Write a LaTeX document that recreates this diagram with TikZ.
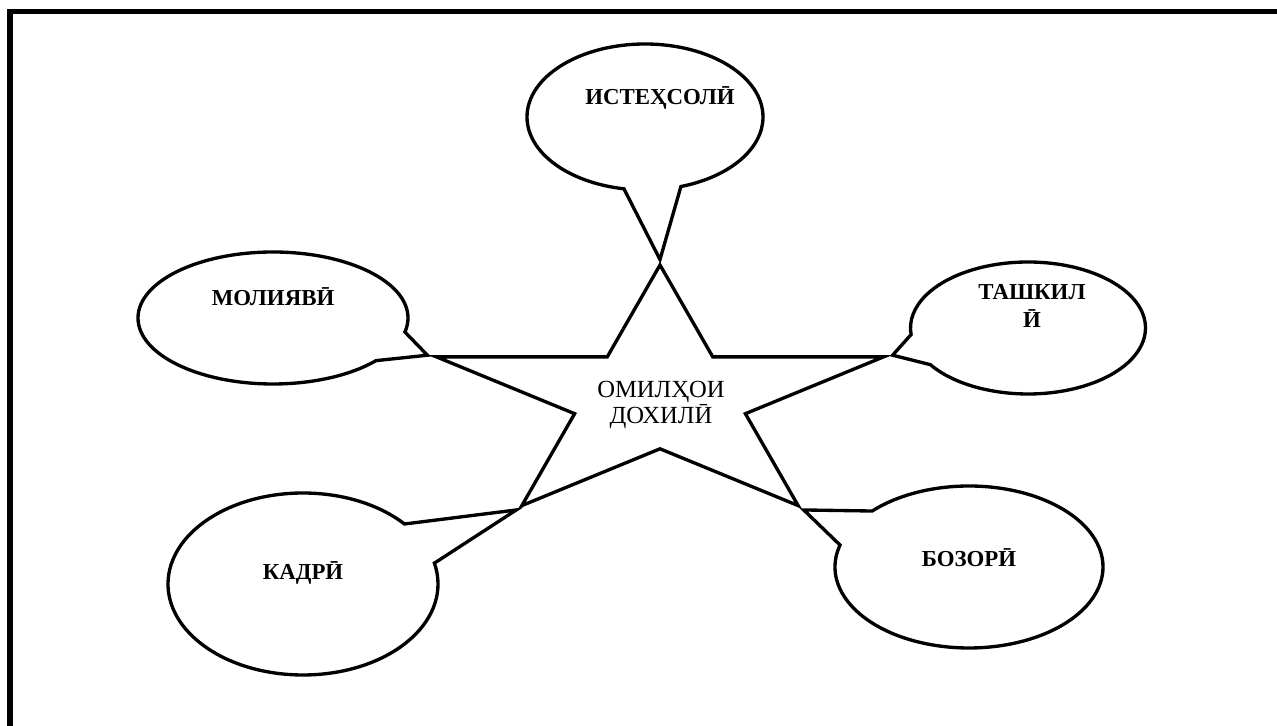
\documentclass[tikz,border=0pt]{standalone}
\usepackage{fontspec}
\setmainfont{Liberation Serif}
\usepackage{tikz}
\usetikzlibrary{shapes,shapes.geometric,shapes.callouts}
\usetikzlibrary{positioning}
\tikzstyle{bubble}=[ellipse callout, draw, line width=1.9pt, inner sep=0pt, callout pointer arc=28, font=\fontsize{13}{16}\selectfont\bfseries, align=center]

\begin{document}
\begin{tikzpicture}

        \useasboundingbox (0,0) rectangle (25.54,14.52);

        \draw [line width=3pt] (0.2,0) |- (25.54,14.29);

        \begin{scope}[shift={(13.2,6.56)}, xscale=1.767]
        \node [star, star points=5, star point ratio=2.618, minimum size=5.32cm, inner sep=0pt, draw, line width=1.9pt, transform shape] (core) at (0,0) {};
        \end{scope}

        \node [align=center, font=\fontsize{14}{13.7}\selectfont] (coretext) at (13.22,6.42) {ОМИЛҲОИ\\ДОХИЛӢ};


        \node [bubble, minimum width=4.72cm, minimum height=2.92cm, callout absolute pointer={(core.outer point 1)}, label={[xshift=0.3cm,yshift=0.38cm,font=\fontsize{13}{16}\selectfont\bfseries]center:ИСТЕҲСОЛӢ}] (prod) at (12.9,12.18) {};

        \node [bubble, minimum width=5.4cm, minimum height=2.64cm, callout absolute pointer={(core.outer point 2)}, label={[yshift=0.42cm,font=\fontsize{13}{16}\selectfont\bfseries]center:МОЛИЯВӢ}] (fin) at (5.46,8.16) {};

        \node [bubble, minimum width=4.7cm, minimum height=2.64cm, callout absolute pointer={(core.outer point 5)}, label={[xshift=0.08cm,yshift=0.44cm,align=center,font=\fontsize{13}{16}\selectfont\bfseries]center:ТАШКИЛ\\Ӣ}] (org) at (20.56,7.96) {};

        \node [bubble, minimum width=5.4cm, minimum height=3.64cm, callout absolute pointer={(core.outer point 3)}, label={[yshift=0.22cm,font=\fontsize{13}{16}\selectfont\bfseries]center:КАДРӢ}] (staff) at (6.06,2.84) {};

        \node [bubble, minimum width=5.36cm, minimum height=3.24cm, callout absolute pointer={(core.outer point 4)}, label={[yshift=0.18cm,font=\fontsize{13}{16}\selectfont\bfseries]center:БОЗОРӢ}] (market) at (19.38,3.18) {};

    \end{tikzpicture}
\end{document}
